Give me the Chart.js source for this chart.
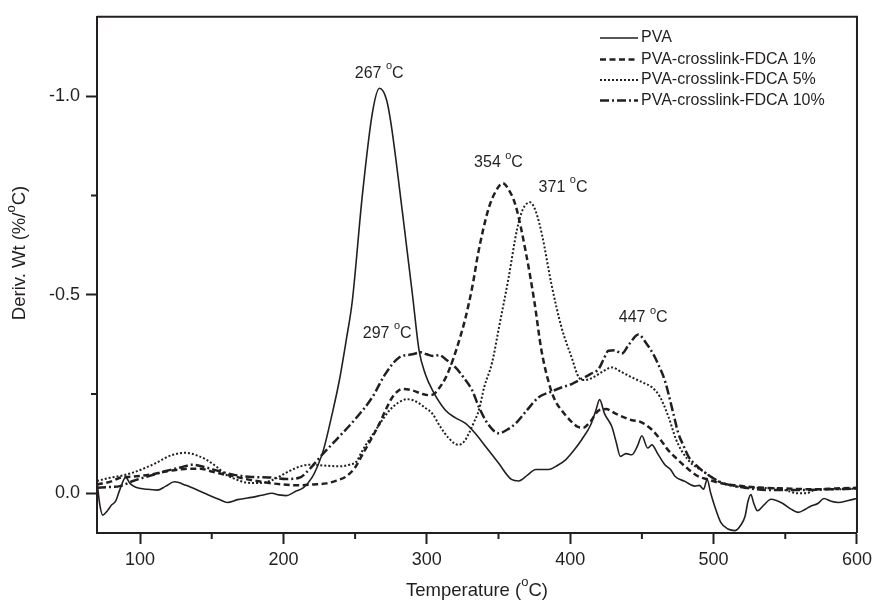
<!DOCTYPE html>
<html>
<head>
<meta charset="utf-8">
<script src="https://cdn.jsdelivr.net/npm/chart.js@4.4.1/dist/chart.umd.min.js"></script>
<style>
  body { margin: 0; background: #fff; }
</style>
</head>
<body>
<canvas id="dtg" width="877" height="603"></canvas>
<script>
// temperature (C) and derivative weight (%/C)
const pvaT = [70, 72, 74, 77, 80, 83, 86, 90, 93, 97, 105, 112, 118, 124, 132, 145, 155, 161, 168, 175, 185, 192, 197, 202, 208, 214, 220, 224, 228, 234, 239, 244, 248, 255, 262, 267, 272, 275, 283, 290, 294.6, 299, 304, 313, 320, 327, 334, 341, 350, 359, 364, 370, 376, 385, 391, 397, 403, 408, 414, 418, 420.5, 424, 429, 432, 435, 439, 443, 447, 450, 454, 457, 461, 466, 470, 473, 480, 487, 490, 493, 495.5, 498, 501, 505, 510, 515, 519, 522, 524, 526, 528, 530.6, 535, 540, 548, 554, 559, 564, 568, 573, 577, 582, 587, 594, 600];
const pvaD = [-0.03, 0.03, 0.055, 0.045, 0.03, 0.02, -0.01, -0.04, -0.025, -0.015, -0.01, -0.008, -0.018, -0.029, -0.02, 0.0, 0.015, 0.023, 0.016, 0.012, 0.005, 0.0, 0.004, 0.006, -0.004, -0.014, -0.04, -0.07, -0.11, -0.2, -0.284, -0.39, -0.483, -0.749, -0.957, -1.02, -0.99, -0.932, -0.708, -0.5, -0.36, -0.3, -0.259, -0.209, -0.19, -0.176, -0.15, -0.118, -0.076, -0.035, -0.031, -0.045, -0.06, -0.06, -0.07, -0.085, -0.11, -0.135, -0.17, -0.21, -0.236, -0.2, -0.168, -0.13, -0.093, -0.1, -0.097, -0.12, -0.145, -0.114, -0.122, -0.1, -0.072, -0.06, -0.043, -0.03, -0.018, -0.02, -0.01, -0.035, 0.0, 0.035, 0.073, 0.09, 0.094, 0.08, 0.057, 0.02, 0.003, 0.025, 0.044, 0.03, 0.015, 0.025, 0.04, 0.048, 0.04, 0.032, 0.025, 0.013, 0.02, 0.023, 0.018, 0.013];

const fdca1T = [70, 80, 86, 95, 107, 118, 128, 135, 142, 150, 158, 165, 175, 188, 200, 211, 220, 230, 237, 244, 250, 255, 261, 267, 272, 276, 283, 290, 297, 302, 305, 308, 313, 318, 323, 327, 332, 336, 343, 348, 353, 357, 362, 369, 375, 380, 386, 390, 394, 401, 405, 409, 414, 420, 425, 432, 443, 449, 457, 463, 468, 474, 480, 489, 496, 503, 515, 530, 550, 570, 585, 600];
const fdca1D = [-0.022, -0.03, -0.039, -0.042, -0.047, -0.055, -0.06, -0.062, -0.062, -0.055, -0.048, -0.043, -0.035, -0.027, -0.022, -0.02, -0.022, -0.025, -0.032, -0.043, -0.065, -0.097, -0.135, -0.176, -0.215, -0.242, -0.263, -0.259, -0.25, -0.247, -0.25, -0.262, -0.29, -0.334, -0.39, -0.442, -0.525, -0.608, -0.716, -0.76, -0.781, -0.765, -0.724, -0.608, -0.483, -0.359, -0.267, -0.23, -0.209, -0.18, -0.168, -0.165, -0.18, -0.209, -0.212, -0.2, -0.184, -0.18, -0.16, -0.135, -0.11, -0.088, -0.068, -0.043, -0.035, -0.027, -0.02, -0.015, -0.012, -0.01, -0.012, -0.014];

const fdca5T = [70, 79, 88, 95, 103, 111, 117, 123, 132, 140, 146, 153, 160, 167, 174, 181, 188, 195, 202, 207, 213, 218, 228, 239, 246, 251, 254, 257.5, 264.5, 270, 274, 280, 286.5, 293, 299, 304, 309, 315, 322, 326, 329.4, 333, 336.3, 340, 345.6, 350.3, 357, 363, 367, 372, 376, 380.4, 387, 394, 401, 406, 410, 415, 422, 429, 436, 443, 450, 457, 462.6, 468.5, 474, 482, 494, 505, 515, 530, 545, 552, 558, 565, 570, 580, 590, 600];
const fdca5D = [-0.031, -0.039, -0.045, -0.052, -0.063, -0.076, -0.088, -0.097, -0.102, -0.095, -0.085, -0.068, -0.047, -0.035, -0.027, -0.026, -0.028, -0.038, -0.052, -0.061, -0.069, -0.072, -0.07, -0.068, -0.072, -0.08, -0.1, -0.122, -0.16, -0.19, -0.209, -0.228, -0.237, -0.23, -0.215, -0.2, -0.17, -0.14, -0.122, -0.13, -0.151, -0.18, -0.209, -0.267, -0.33, -0.417, -0.542, -0.666, -0.715, -0.733, -0.71, -0.65, -0.525, -0.417, -0.342, -0.292, -0.285, -0.29, -0.305, -0.317, -0.305, -0.292, -0.28, -0.267, -0.243, -0.193, -0.134, -0.085, -0.052, -0.027, -0.018, -0.014, -0.012, -0.006, 0.0, 0.0, -0.008, -0.01, -0.01, -0.012];

const fdca10T = [70, 80, 86, 95, 105, 118, 128, 137, 145, 155, 165, 178, 190, 202, 211, 218, 227, 239, 250.6, 262, 271, 280.7, 290, 295.8, 300, 304, 308.5, 314, 320, 326, 331.7, 336, 341, 346, 350.3, 356, 362, 370, 378, 386, 394.3, 401, 408, 414, 419.8, 423, 426.7, 431, 436, 441, 447.6, 453, 458, 462, 466, 472, 475.4, 479, 482.4, 488, 494, 505.5, 515, 521.7, 540, 560, 580, 600];
const fdca10D = [-0.014, -0.016, -0.018, -0.031, -0.042, -0.056, -0.065, -0.072, -0.066, -0.056, -0.047, -0.041, -0.04, -0.036, -0.039, -0.06, -0.097, -0.143, -0.189, -0.242, -0.3, -0.342, -0.35, -0.355, -0.35, -0.346, -0.348, -0.335, -0.317, -0.29, -0.259, -0.22, -0.184, -0.16, -0.151, -0.16, -0.176, -0.21, -0.242, -0.255, -0.267, -0.275, -0.288, -0.3, -0.313, -0.335, -0.359, -0.36, -0.352, -0.375, -0.4, -0.378, -0.35, -0.32, -0.284, -0.2, -0.151, -0.12, -0.093, -0.07, -0.052, -0.027, -0.018, -0.014, -0.008, -0.008, -0.01, -0.012];

const seriesNames = ['PVA', 'PVA-crosslink-FDCA 1%', 'PVA-crosslink-FDCA 5%', 'PVA-crosslink-FDCA 10%'];

// peak labels: temperature text and where it sits (data units)
const peakTemps = [267, 354, 371, 297, 447];
const peakLabelX = [266.8, 350, 395, 272.4, 450.9];
const peakLabelY = [-1.057, -0.832, -0.77, -0.403, -0.442];

const xTicks = [100, 200, 300, 400, 500, 600];
const xMinor = [150, 250, 350, 450, 550];
const yTicks = [-1.0, -0.5, 0.0];
const yMinor = [-0.75, -0.25];

const ink = '#231f20';
const FONT = "'Liberation Sans', Arial, Helvetica, sans-serif";

function pts(t, d) {
  return t.map((v, i) => ({ x: v, y: d[i] }));
}

// draws text with a raised small "o" for the degree sign, centred on x
function supText(ctx, parts, x, y, size) {
  const supSize = Math.round(size * 0.68);
  let w = 0;
  parts.forEach(p => {
    ctx.font = (p.sup ? supSize : size) + 'px ' + FONT;
    w += ctx.measureText(p.t).width;
  });
  let cx = x - w / 2;
  parts.forEach(p => {
    ctx.font = (p.sup ? supSize : size) + 'px ' + FONT;
    ctx.fillText(p.t, cx, p.sup ? y - size * 0.45 : y);
    cx += ctx.measureText(p.t).width;
  });
}

const extras = {
  id: 'extras',
  afterDraw(chart) {
    const ctx = chart.ctx;
    const a = chart.chartArea;
    const xs = chart.scales.x, ys = chart.scales.y;
    ctx.save();
    ctx.strokeStyle = ink;
    ctx.fillStyle = ink;

    // frame on top and right
    ctx.lineWidth = 2;
    ctx.beginPath();
    ctx.moveTo(a.left, a.top);
    ctx.lineTo(a.right, a.top);
    ctx.lineTo(a.right, a.bottom);
    ctx.stroke();

    // minor ticks
    ctx.beginPath();
    xMinor.forEach(v => {
      const px = xs.getPixelForValue(v);
      ctx.moveTo(px, a.bottom);
      ctx.lineTo(px, a.bottom + 6);
    });
    yMinor.forEach(v => {
      const py = ys.getPixelForValue(v);
      ctx.moveTo(a.left, py);
      ctx.lineTo(a.left - 6, py);
    });
    ctx.stroke();

    ctx.textBaseline = 'middle';
    ctx.textAlign = 'left';

    // peak annotations
    peakTemps.forEach((t, i) => {
      supText(ctx, [{ t: t + ' ' }, { t: 'o', sup: true }, { t: 'C' }],
        xs.getPixelForValue(peakLabelX[i]), ys.getPixelForValue(peakLabelY[i]), 16);
    });

    // legend
    const rowY = [38, 59.5, 80, 100.5];
    chart.data.datasets.forEach((ds, i) => {
      ctx.lineWidth = ds.borderWidth;
      ctx.setLineDash(ds.borderDash || []);
      ctx.beginPath();
      ctx.moveTo(600, rowY[i]);
      ctx.lineTo(638, rowY[i]);
      ctx.stroke();
      ctx.setLineDash([]);
      ctx.font = '16px ' + FONT;
      ctx.fillText(ds.label, 641, rowY[i]);
    });

    // axis titles
    supText(ctx, [{ t: 'Temperature (' }, { t: 'o', sup: true }, { t: 'C)' }],
      (a.left + a.right) / 2, 591, 18.5);
    ctx.translate(20, 253);
    ctx.rotate(-Math.PI / 2);
    supText(ctx, [{ t: 'Deriv. Wt (%/' }, { t: 'o', sup: true }, { t: 'C)' }], 0, 0, 18.5);
    ctx.restore();
  }
};

const line = (label, t, d, width, dash) => ({
  label: label,
  data: pts(t, d),
  borderColor: ink,
  borderWidth: width,
  borderDash: dash,
  pointRadius: 0,
  fill: false,
  cubicInterpolationMode: 'monotone'
});

new Chart(document.getElementById('dtg'), {
  type: 'line',
  data: {
    datasets: [
      line(seriesNames[0], pvaT, pvaD, 1.6, []),
      line(seriesNames[1], fdca1T, fdca1D, 2.5, [6, 3.5]),
      line(seriesNames[2], fdca5T, fdca5D, 2, [2, 2]),
      line(seriesNames[3], fdca10T, fdca10D, 2.5, [9, 3, 2, 3])
    ]
  },
  options: {
    responsive: false,
    animation: false,
    layout: { padding: { top: 13, right: 18, left: 0, bottom: 0 } },
    plugins: { legend: { display: false }, tooltip: { enabled: false } },
    scales: {
      x: {
        type: 'linear',
        min: 70,
        max: 600,
        afterBuildTicks: s => { s.ticks = xTicks.map(v => ({ value: v })); },
        afterFit: s => { s.height = 70; },
        border: { display: true, color: ink, width: 2 },
        grid: { drawOnChartArea: false, tickLength: 11, tickColor: ink, tickWidth: 2 },
        ticks: { color: ink, font: { family: FONT, size: 18 }, padding: 5, maxRotation: 0,
          callback: v => String(v) }
      },
      y: {
        type: 'linear',
        reverse: true,
        min: -1.2,
        max: 0.1,
        afterBuildTicks: s => { s.ticks = yTicks.map(v => ({ value: v })); },
        afterFit: s => { s.width = 97; },
        border: { display: true, color: ink, width: 2 },
        grid: { drawOnChartArea: false, tickLength: 11, tickColor: ink, tickWidth: 2 },
        ticks: { color: ink, font: { family: FONT, size: 18 }, padding: 6,
          callback: v => v.toFixed(1) }
      }
    }
  },
  plugins: [extras]
});
</script>
</body>
</html>
